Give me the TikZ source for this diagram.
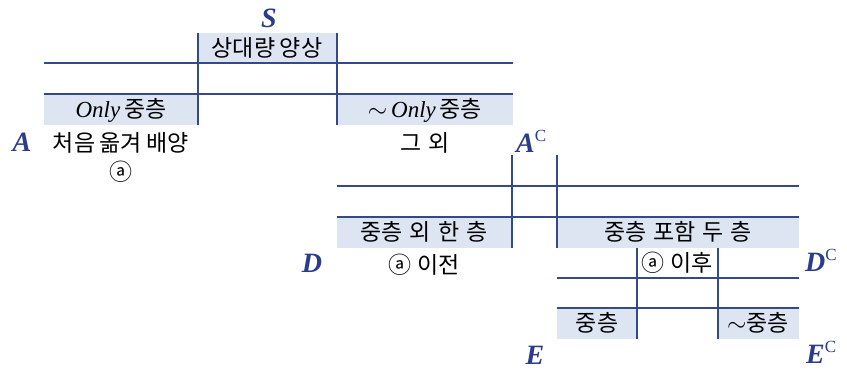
\documentclass[tikz,border=0pt]{standalone}
\usepackage{fontspec}
\setmainfont{Liberation Serif}
\newfontfamily\kr{Noto Sans CJK KR}
\definecolor{ln}{HTML}{34488C}
\definecolor{sh}{HTML}{DDE4F2}
\definecolor{lb}{HTML}{2B3C8A}
\newcommand{\supC}{\raisebox{11pt}{\fontsize{17}{17}\normalfont\selectfont C}}
\newcommand{\wsp}{\hspace{0.3em}}
\begin{document}
\begin{tikzpicture}[x=1pt,y=-1pt,
  tline/.style={ln, line width=1.3pt},
  cell/.style={fill=sh, draw=none},
  txt/.style={font=\kr\fontsize{23}{26}\selectfont, text=black, inner sep=0pt},
  lab/.style={font=\fontsize{28}{30}\selectfont\bfseries\itshape, text=lb, inner sep=0pt}]
\useasboundingbox (0,0) rectangle (847,373);
% shaded cells
\fill[cell] (198,33) rectangle (337,63);
\fill[cell] (44,94) rectangle (198,125);
\fill[cell] (337,94) rectangle (513,125);
\fill[cell] (337,217) rectangle (512,248);
\fill[cell] (557,217) rectangle (799,248);
\fill[cell] (557,308) rectangle (637,339);
\fill[cell] (718,308) rectangle (799,339);
% lines
\draw[tline] (198,33) -- (198,125);
\draw[tline] (337,33) -- (337,125);
\draw[tline] (44,63) -- (513,63);
\draw[tline] (44,94) -- (513,94);
\draw[tline] (512,155) -- (512,248);
\draw[tline] (557,155) -- (557,248);
\draw[tline] (337,186) -- (799,186);
\draw[tline] (337,217) -- (799,217);
\draw[tline] (637,248) -- (637,339);
\draw[tline] (718,248) -- (718,339);
\draw[tline] (557,278) -- (799,278);
\draw[tline] (557,308) -- (799,308);
% texts
\node[txt] (t1) at (267,48) {상대량\hspace{0.2em}양상};
\node[txt] (t2) at (121,110) {{\fontspec{Liberation Serif}\itshape Only}\,중층};
\node[txt] (t3) at (425,110) {$\sim$\,{\fontspec{Liberation Serif}\itshape Only}\,중층};
\node[txt] (t4) at (121,143) {처음\hspace{0.2em}옮겨\hspace{0.2em}배양};
\node[txt] (t5) at (121,172) {ⓐ};
\node[txt] (t6) at (425,143) {그\wsp 외};
\node[txt] (t7) at (424,232) {중층\wsp 외\wsp 한\wsp 층};
\node[txt] (t8) at (678,232) {중층\wsp 포함\wsp 두\wsp 층};
\node[txt] (t9) at (424,265) {ⓐ\hspace{0.25em}이전};
\node[txt] (t10) at (677,263) {ⓐ\hspace{0.25em}이후};
\node[txt] (t11) at (597,323) {중층};
\node[txt] (t12) at (758,323) {$\sim$중층};
% labels
\node[lab, anchor=base] (S) at (269,27) {S};
\node[lab, anchor=base] (A) at (22,151) {A};
\node[lab, anchor=base west] (Ac) at (516,152) {A\supC};
\node[lab, anchor=base] (D) at (312,272) {D};
\node[lab, anchor=base west] (Dc) at (805,271) {D\supC};
\node[lab, anchor=base] (E) at (535,364) {E};
\node[lab, anchor=base west] (Ec) at (806,363) {E\supC};
\end{tikzpicture}
\end{document}
